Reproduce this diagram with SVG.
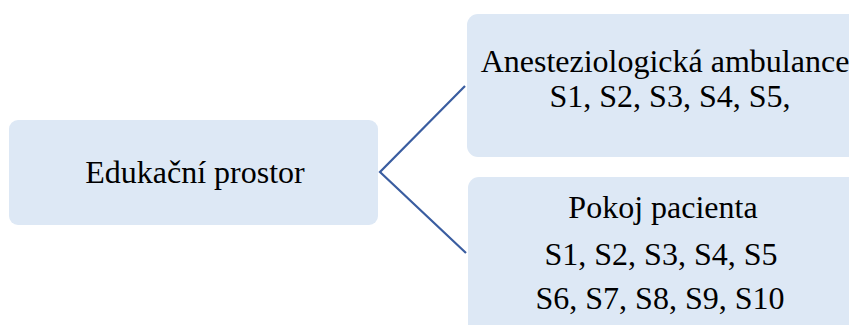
<svg xmlns="http://www.w3.org/2000/svg" width="849" height="325" viewBox="0 0 849 325">
<style>
.box{fill:#dde8f5;}
.t{font-family:"Liberation Serif","Times New Roman",serif;font-size:32px;fill:#000;text-anchor:middle;}
.c{fill:none;stroke:#3a5da0;stroke-width:2.2;}
</style>
<rect width="849" height="325" fill="#ffffff"/>
<g id="connectors">
<polyline class="c" points="465,86 380,172 466,253"/>
</g>
<g id="node-root">
<rect class="box" x="9" y="120" width="369" height="105" rx="9"/>
<text class="t" x="195" y="183">Edukační prostor</text>
</g>
<g id="node-ambulance">
<rect class="box" x="467" y="14" width="420" height="143" rx="11"/>
<text class="t" x="665" y="72">Anesteziologická ambulance</text>
<text class="t" x="670" y="107">S1, S2, S3, S4, S5,</text>
</g>
<g id="node-pokoj">
<rect class="box" x="468" y="177" width="420" height="180" rx="11"/>
<text class="t" x="663" y="218">Pokoj pacienta</text>
<text class="t" x="661" y="265">S1, S2, S3, S4, S5</text>
<text class="t" x="660" y="309">S6, S7, S8, S9, S10</text>
</g>
</svg>
